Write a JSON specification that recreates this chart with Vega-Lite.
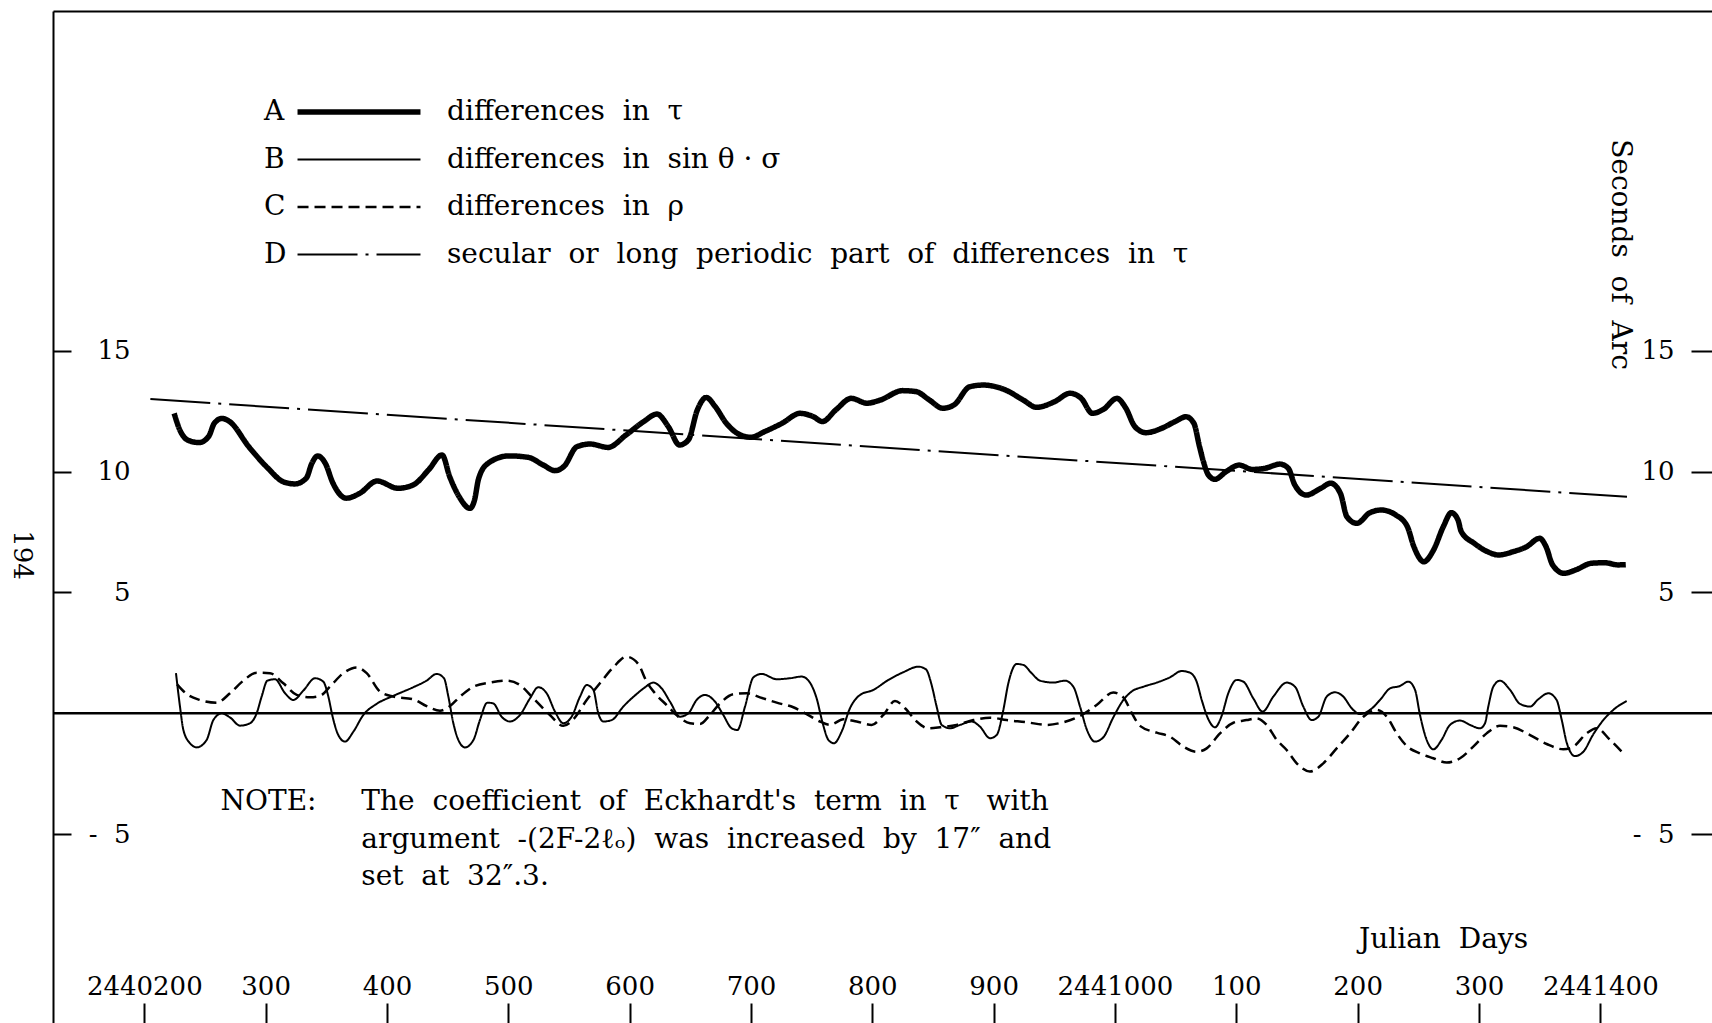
{
"$schema": "https://vega.github.io/schema/vega-lite/v6.json",
"width": 1659, "height": 1012,
"autosize": {"type": "none"},
"padding": {"left": 53, "top": 11, "right": 0, "bottom": 0},
"background": "white",
"config": {
 "view": {"stroke": null},
 "font": "DejaVu Serif",
 "axis": {"grid": false, "labelFont": "DejaVu Serif", "labelFontSize": 26, "labelColor": "black", "titleFont": "DejaVu Serif", "titleFontSize": 28, "titleFontWeight": "normal", "titleColor": "black", "tickColor": "black", "domainColor": "black", "labelOverlap": false, "labelFlush": false},
 "legend": {"labelFont": "DejaVu Serif", "labelFontSize": 28, "labelColor": "black", "labelLimit": 0}
},
"data": {"values": [
{"series":"A","jd":2440224.6,"value":12.41},{"series":"A","jd":2440229.3,"value":11.72},{"series":"A","jd":2440235.6,"value":11.31},{"series":"A","jd":2440245.1,"value":11.2},{"series":"A","jd":2440253,"value":11.45},{"series":"A","jd":2440257.7,"value":12.0},{"series":"A","jd":2440264,"value":12.2},{"series":"A","jd":2440270.3,"value":12.07},{"series":"A","jd":2440286.1,"value":11.03},{"series":"A","jd":2440301.9,"value":10.14},{"series":"A","jd":2440314.5,"value":9.58},{"series":"A","jd":2440324,"value":9.49},{"series":"A","jd":2440333.4,"value":9.72},{"series":"A","jd":2440338.1,"value":10.34},{"series":"A","jd":2440342.8,"value":10.65},{"series":"A","jd":2440349.2,"value":10.34},{"series":"A","jd":2440355.5,"value":9.52},{"series":"A","jd":2440366.5,"value":8.9},{"series":"A","jd":2440377.5,"value":9.1},{"series":"A","jd":2440391.8,"value":9.61},{"series":"A","jd":2440409.1,"value":9.31},{"series":"A","jd":2440421.7,"value":9.45},{"series":"A","jd":2440434.3,"value":10.07},{"series":"A","jd":2440445.4,"value":10.69},{"series":"A","jd":2440451.7,"value":9.79},{"series":"A","jd":2440459.5,"value":8.96},{"series":"A","jd":2440468.4,"value":8.48},{"series":"A","jd":2440472.2,"value":8.83},{"series":"A","jd":2440475.5,"value":9.7},{"series":"A","jd":2440483.2,"value":10.34},{"series":"A","jd":2440500.6,"value":10.65},{"series":"A","jd":2440516.3,"value":10.59},{"series":"A","jd":2440528.9,"value":10.27},{"series":"A","jd":2440538.4,"value":10.04},{"series":"A","jd":2440546,"value":10.22},{"series":"A","jd":2440556.5,"value":11.03},{"series":"A","jd":2440567.5,"value":11.14},{"series":"A","jd":2440582.2,"value":11.0},{"series":"A","jd":2440596.9,"value":11.51},{"series":"A","jd":2440611.6,"value":12.07},{"series":"A","jd":2440622.6,"value":12.38},{"series":"A","jd":2440631.9,"value":11.86},{"series":"A","jd":2440641.1,"value":11.1},{"series":"A","jd":2440648.4,"value":11.31},{"series":"A","jd":2440655.8,"value":12.55},{"series":"A","jd":2440663.1,"value":13.07},{"series":"A","jd":2440670.5,"value":12.69},{"series":"A","jd":2440679.7,"value":12.0},{"series":"A","jd":2440688.9,"value":11.58},{"series":"A","jd":2440700,"value":11.42},{"series":"A","jd":2440711,"value":11.65},{"series":"A","jd":2440725.7,"value":12.0},{"series":"A","jd":2440740.4,"value":12.41},{"series":"A","jd":2440751.5,"value":12.27},{"series":"A","jd":2440758.8,"value":12.07},{"series":"A","jd":2440769.9,"value":12.55},{"series":"A","jd":2440782.7,"value":13.03},{"series":"A","jd":2440795.6,"value":12.83},{"series":"A","jd":2440806.6,"value":12.96},{"series":"A","jd":2440825,"value":13.35},{"series":"A","jd":2440836,"value":13.31},{"series":"A","jd":2440847.1,"value":12.96},{"series":"A","jd":2440858.1,"value":12.62},{"series":"A","jd":2440867.4,"value":12.76},{"series":"A","jd":2440880.2,"value":13.51},{"series":"A","jd":2440891.3,"value":13.58},{"series":"A","jd":2440909.6,"value":13.38},{"series":"A","jd":2440924.4,"value":12.96},{"series":"A","jd":2440935.4,"value":12.66},{"series":"A","jd":2440950.1,"value":12.89},{"series":"A","jd":2440963,"value":13.24},{"series":"A","jd":2440972.2,"value":13.03},{"series":"A","jd":2440981.4,"value":12.41},{"series":"A","jd":2440990.6,"value":12.58},{"series":"A","jd":2441001.6,"value":13.03},{"series":"A","jd":2441009,"value":12.62},{"series":"A","jd":2441016.4,"value":11.86},{"series":"A","jd":2441025.6,"value":11.61},{"series":"A","jd":2441038.4,"value":11.79},{"series":"A","jd":2441049.5,"value":12.07},{"series":"A","jd":2441058.6,"value":12.27},{"series":"A","jd":2441065,"value":12.0},{"series":"A","jd":2441069.7,"value":11.03},{"series":"A","jd":2441073,"value":10.4},{"series":"A","jd":2441077,"value":9.86},{"series":"A","jd":2441082.4,"value":9.68},{"series":"A","jd":2441091.6,"value":10.0},{"series":"A","jd":2441102.4,"value":10.27},{"series":"A","jd":2441113.1,"value":10.09},{"series":"A","jd":2441123.9,"value":10.14},{"series":"A","jd":2441136,"value":10.31},{"series":"A","jd":2441142.8,"value":10.14},{"series":"A","jd":2441148.2,"value":9.45},{"series":"A","jd":2441157.6,"value":9.03},{"series":"A","jd":2441169.7,"value":9.31},{"series":"A","jd":2441177.8,"value":9.52},{"series":"A","jd":2441185.8,"value":9.1},{"series":"A","jd":2441191.2,"value":8.13},{"series":"A","jd":2441199.3,"value":7.86},{"series":"A","jd":2441210.1,"value":8.3},{"series":"A","jd":2441219.5,"value":8.41},{"series":"A","jd":2441231.6,"value":8.2},{"series":"A","jd":2441241,"value":7.72},{"series":"A","jd":2441246.4,"value":6.89},{"series":"A","jd":2441254.5,"value":6.27},{"series":"A","jd":2441262.6,"value":6.76},{"series":"A","jd":2441270.6,"value":7.72},{"series":"A","jd":2441277.3,"value":8.3},{"series":"A","jd":2441282.7,"value":8.0},{"series":"A","jd":2441285.4,"value":7.52},{"series":"A","jd":2441296.2,"value":7.03},{"series":"A","jd":2441306.9,"value":6.69},{"series":"A","jd":2441316.3,"value":6.55},{"series":"A","jd":2441328.4,"value":6.69},{"series":"A","jd":2441339.2,"value":6.89},{"series":"A","jd":2441350,"value":7.24},{"series":"A","jd":2441355.3,"value":6.89},{"series":"A","jd":2441360.7,"value":6.14},{"series":"A","jd":2441370.1,"value":5.79},{"series":"A","jd":2441379.6,"value":5.93},{"series":"A","jd":2441393,"value":6.21},{"series":"A","jd":2441403.8,"value":6.23},{"series":"A","jd":2441414.5,"value":6.14},{"series":"A","jd":2441421,"value":6.15},
{"series":"B","jd":2440226.1,"value":1.66},{"series":"B","jd":2440229.4,"value":0.28},{"series":"B","jd":2440232.2,"value":-0.69},{"series":"B","jd":2440237.7,"value":-1.24},{"series":"B","jd":2440243.2,"value":-1.41},{"series":"B","jd":2440251.4,"value":-1.1},{"series":"B","jd":2440256.9,"value":-0.28},{"series":"B","jd":2440263.8,"value":0},{"series":"B","jd":2440270.6,"value":-0.17},{"series":"B","jd":2440278.9,"value":-0.51},{"series":"B","jd":2440287.1,"value":-0.41},{"series":"B","jd":2440292.6,"value":0},{"series":"B","jd":2440296.7,"value":0.69},{"series":"B","jd":2440301.4,"value":1.35},{"series":"B","jd":2440307.7,"value":1.41},{"series":"B","jd":2440316,"value":0.83},{"series":"B","jd":2440322.8,"value":0.55},{"series":"B","jd":2440331.1,"value":0.94},{"series":"B","jd":2440340.7,"value":1.45},{"series":"B","jd":2440347.5,"value":1.31},{"series":"B","jd":2440351.7,"value":0.69},{"series":"B","jd":2440355.2,"value":-0.14},{"series":"B","jd":2440359.9,"value":-0.9},{"series":"B","jd":2440365.4,"value":-1.17},{"series":"B","jd":2440372.3,"value":-0.76},{"series":"B","jd":2440380.5,"value":-0.07},{"series":"B","jd":2440391.5,"value":0.39},{"series":"B","jd":2440405.2,"value":0.72},{"series":"B","jd":2440421.7,"value":1.08},{"series":"B","jd":2440432.7,"value":1.35},{"series":"B","jd":2440440.9,"value":1.63},{"series":"B","jd":2440447,"value":1.45},{"series":"B","jd":2440450.6,"value":0.69},{"series":"B","jd":2440454.7,"value":-0.41},{"series":"B","jd":2440458.8,"value":-1.1},{"series":"B","jd":2440464.3,"value":-1.41},{"series":"B","jd":2440471.3,"value":-1.1},{"series":"B","jd":2440476.6,"value":-0.28},{"series":"B","jd":2440482.7,"value":0.44},{"series":"B","jd":2440487.6,"value":0.41},{"series":"B","jd":2440494.5,"value":-0.14},{"series":"B","jd":2440501.4,"value":-0.34},{"series":"B","jd":2440509.6,"value":-0.07},{"series":"B","jd":2440517.9,"value":0.62},{"series":"B","jd":2440524.7,"value":1.08},{"series":"B","jd":2440531.6,"value":0.83},{"series":"B","jd":2440538.5,"value":0.07},{"series":"B","jd":2440545.3,"value":-0.41},{"series":"B","jd":2440552.2,"value":-0.14},{"series":"B","jd":2440559.1,"value":0.69},{"series":"B","jd":2440564.6,"value":1.17},{"series":"B","jd":2440570.1,"value":0.97},{"series":"B","jd":2440574.2,"value":0},{"series":"B","jd":2440578.3,"value":-0.34},{"series":"B","jd":2440585.2,"value":-0.28},{"series":"B","jd":2440594.8,"value":0.28},{"series":"B","jd":2440605.8,"value":0.8},{"series":"B","jd":2440612,"value":1.05},{"series":"B","jd":2440619.5,"value":1.27},{"series":"B","jd":2440626.4,"value":1.03},{"series":"B","jd":2440633.3,"value":0.48},{"series":"B","jd":2440641.5,"value":-0.14},{"series":"B","jd":2440648.4,"value":0},{"series":"B","jd":2440655.2,"value":0.55},{"series":"B","jd":2440662.1,"value":0.76},{"series":"B","jd":2440670.4,"value":0.48},{"series":"B","jd":2440677.2,"value":-0.07},{"series":"B","jd":2440684.1,"value":-0.62},{"series":"B","jd":2440688.8,"value":-0.69},{"series":"B","jd":2440695.1,"value":0.28},{"series":"B","jd":2440702,"value":1.49},{"series":"B","jd":2440708.8,"value":1.63},{"series":"B","jd":2440721.2,"value":1.41},{"series":"B","jd":2440732.2,"value":1.45},{"series":"B","jd":2440741.8,"value":1.52},{"series":"B","jd":2440748.6,"value":1.27},{"series":"B","jd":2440754.1,"value":0.62},{"series":"B","jd":2440759.1,"value":-0.41},{"series":"B","jd":2440763.8,"value":-1.1},{"series":"B","jd":2440768.4,"value":-1.24},{"series":"B","jd":2440774.7,"value":-0.76},{"series":"B","jd":2440781.6,"value":0.21},{"series":"B","jd":2440789.9,"value":0.76},{"series":"B","jd":2440800.9,"value":0.97},{"series":"B","jd":2440813.2,"value":1.38},{"series":"B","jd":2440825.6,"value":1.7},{"series":"B","jd":2440837.9,"value":1.93},{"series":"B","jd":2440844.2,"value":1.82},{"series":"B","jd":2440848.9,"value":1.17},{"series":"B","jd":2440853,"value":0.28},{"series":"B","jd":2440857.2,"value":-0.48},{"series":"B","jd":2440864,"value":-0.62},{"series":"B","jd":2440872.3,"value":-0.48},{"series":"B","jd":2440881.9,"value":-0.34},{"series":"B","jd":2440888.7,"value":-0.55},{"series":"B","jd":2440897,"value":-1.03},{"series":"B","jd":2440902.5,"value":-0.9},{"series":"B","jd":2440908,"value":0.14},{"series":"B","jd":2440912.1,"value":1.24},{"series":"B","jd":2440919,"value":2.04},{"series":"B","jd":2440924.5,"value":2.0},{"series":"B","jd":2440931.3,"value":1.66},{"series":"B","jd":2440938.2,"value":1.35},{"series":"B","jd":2440949.2,"value":1.27},{"series":"B","jd":2440958.8,"value":1.35},{"series":"B","jd":2440965.7,"value":1.1},{"series":"B","jd":2440971.2,"value":0.28},{"series":"B","jd":2440976.7,"value":-0.66},{"series":"B","jd":2440983.5,"value":-1.17},{"series":"B","jd":2440990.4,"value":-0.99},{"series":"B","jd":2440998.6,"value":-0.17},{"series":"B","jd":2441006.9,"value":0.55},{"series":"B","jd":2441013.7,"value":0.9},{"series":"B","jd":2441023.4,"value":1.1},{"series":"B","jd":2441034.4,"value":1.27},{"series":"B","jd":2441045.4,"value":1.49},{"series":"B","jd":2441055,"value":1.75},{"series":"B","jd":2441061.8,"value":1.68},{"series":"B","jd":2441067.3,"value":1.31},{"series":"B","jd":2441071.5,"value":0.55},{"series":"B","jd":2441077,"value":-0.25},{"series":"B","jd":2441082.4,"value":-0.58},{"series":"B","jd":2441087.9,"value":-0.11},{"series":"B","jd":2441093.4,"value":0.83},{"series":"B","jd":2441100.3,"value":1.38},{"series":"B","jd":2441105.8,"value":1.31},{"series":"B","jd":2441114,"value":0.62},{"series":"B","jd":2441121.7,"value":0.07},{"series":"B","jd":2441130.5,"value":0.69},{"series":"B","jd":2441141.5,"value":1.27},{"series":"B","jd":2441148.4,"value":1.1},{"series":"B","jd":2441155.2,"value":0.28},{"series":"B","jd":2441162.1,"value":-0.28},{"series":"B","jd":2441167.6,"value":-0.14},{"series":"B","jd":2441174.5,"value":0.69},{"series":"B","jd":2441181.3,"value":0.87},{"series":"B","jd":2441188.2,"value":0.69},{"series":"B","jd":2441195.1,"value":0.21},{"series":"B","jd":2441201.9,"value":-0.03},{"series":"B","jd":2441210.2,"value":0.14},{"series":"B","jd":2441218.4,"value":0.55},{"series":"B","jd":2441226.7,"value":1.03},{"series":"B","jd":2441234.9,"value":1.13},{"series":"B","jd":2441241.8,"value":1.31},{"series":"B","jd":2441247.3,"value":0.97},{"series":"B","jd":2441251.4,"value":-0.07},{"series":"B","jd":2441256.9,"value":-1.1},{"series":"B","jd":2441262.4,"value":-1.49},{"series":"B","jd":2441269.2,"value":-1.1},{"series":"B","jd":2441276.1,"value":-0.48},{"series":"B","jd":2441284.4,"value":-0.3},{"series":"B","jd":2441292.6,"value":-0.48},{"series":"B","jd":2441300.8,"value":-0.62},{"series":"B","jd":2441305,"value":-0.41},{"series":"B","jd":2441307.7,"value":0.28},{"series":"B","jd":2441311.8,"value":1.1},{"series":"B","jd":2441317.3,"value":1.35},{"series":"B","jd":2441325.6,"value":0.97},{"series":"B","jd":2441333.8,"value":0.39},{"series":"B","jd":2441342.1,"value":0.28},{"series":"B","jd":2441348.9,"value":0.58},{"series":"B","jd":2441357.2,"value":0.83},{"series":"B","jd":2441364,"value":0.55},{"series":"B","jd":2441368.1,"value":-0.25},{"series":"B","jd":2441372.3,"value":-1.21},{"series":"B","jd":2441379.1,"value":-1.77},{"series":"B","jd":2441386,"value":-1.59},{"series":"B","jd":2441394.2,"value":-0.87},{"series":"B","jd":2441402.5,"value":-0.28},{"series":"B","jd":2441410.7,"value":0.14},{"series":"B","jd":2441421.7,"value":0.51},
{"series":"C","jd":2440227,"value":1.2},{"series":"C","jd":2440234.9,"value":0.8},{"series":"C","jd":2440245.9,"value":0.55},{"series":"C","jd":2440259.6,"value":0.44},{"series":"C","jd":2440270.6,"value":0.83},{"series":"C","jd":2440281.6,"value":1.35},{"series":"C","jd":2440292.6,"value":1.68},{"series":"C","jd":2440303.6,"value":1.66},{"series":"C","jd":2440314.6,"value":1.24},{"series":"C","jd":2440325.6,"value":0.76},{"series":"C","jd":2440336.6,"value":0.66},{"series":"C","jd":2440344.8,"value":0.72},{"series":"C","jd":2440353,"value":1.1},{"series":"C","jd":2440364,"value":1.66},{"series":"C","jd":2440375,"value":1.9},{"series":"C","jd":2440383.3,"value":1.66},{"series":"C","jd":2440394.2,"value":0.9},{"series":"C","jd":2440405.2,"value":0.69},{"series":"C","jd":2440421.7,"value":0.58},{"series":"C","jd":2440432.7,"value":0.3},{"series":"C","jd":2440443.7,"value":0.11},{"series":"C","jd":2440452,"value":0.3},{"series":"C","jd":2440460.2,"value":0.69},{"series":"C","jd":2440471.2,"value":1.1},{"series":"C","jd":2440484.9,"value":1.27},{"series":"C","jd":2440498.6,"value":1.35},{"series":"C","jd":2440509.6,"value":1.17},{"series":"C","jd":2440520.6,"value":0.62},{"series":"C","jd":2440534.3,"value":-0.07},{"series":"C","jd":2440545.3,"value":-0.52},{"series":"C","jd":2440553.6,"value":-0.25},{"series":"C","jd":2440564.6,"value":0.55},{"series":"C","jd":2440575.5,"value":1.24},{"series":"C","jd":2440586.5,"value":1.9},{"series":"C","jd":2440597.5,"value":2.34},{"series":"C","jd":2440607.1,"value":2.04},{"series":"C","jd":2440614,"value":1.31},{"series":"C","jd":2440620.9,"value":0.83},{"series":"C","jd":2440630.5,"value":0.34},{"series":"C","jd":2440640.1,"value":-0.14},{"series":"C","jd":2440649.8,"value":-0.41},{"series":"C","jd":2440658,"value":-0.44},{"series":"C","jd":2440666.2,"value":-0.07},{"series":"C","jd":2440674.5,"value":0.41},{"series":"C","jd":2440685.5,"value":0.79},{"series":"C","jd":2440696.5,"value":0.83},{"series":"C","jd":2440707.4,"value":0.66},{"series":"C","jd":2440721.2,"value":0.44},{"series":"C","jd":2440734.9,"value":0.25},{"series":"C","jd":2440745.9,"value":-0.03},{"series":"C","jd":2440756.9,"value":-0.34},{"series":"C","jd":2440765.1,"value":-0.48},{"series":"C","jd":2440776.1,"value":-0.25},{"series":"C","jd":2440787.1,"value":-0.34},{"series":"C","jd":2440799.5,"value":-0.48},{"series":"C","jd":2440809.1,"value":-0.07},{"series":"C","jd":2440818.7,"value":0.51},{"series":"C","jd":2440827,"value":0.21},{"series":"C","jd":2440836.6,"value":-0.34},{"series":"C","jd":2440846.2,"value":-0.62},{"series":"C","jd":2440855.8,"value":-0.58},{"series":"C","jd":2440869.5,"value":-0.48},{"series":"C","jd":2440883.3,"value":-0.28},{"series":"C","jd":2440897,"value":-0.18},{"series":"C","jd":2440910.7,"value":-0.28},{"series":"C","jd":2440927.2,"value":-0.37},{"series":"C","jd":2440943.7,"value":-0.48},{"series":"C","jd":2440957.4,"value":-0.37},{"series":"C","jd":2440971.2,"value":-0.11},{"series":"C","jd":2440984.9,"value":0.34},{"series":"C","jd":2440998.6,"value":0.86},{"series":"C","jd":2441006.9,"value":0.66},{"series":"C","jd":2441014,"value":0.0},{"series":"C","jd":2441020.6,"value":-0.52},{"series":"C","jd":2441034.4,"value":-0.8},{"series":"C","jd":2441045.4,"value":-0.97},{"series":"C","jd":2441056.4,"value":-1.38},{"series":"C","jd":2441067.3,"value":-1.59},{"series":"C","jd":2441075.6,"value":-1.45},{"series":"C","jd":2441086.6,"value":-0.83},{"series":"C","jd":2441097.6,"value":-0.39},{"series":"C","jd":2441108.5,"value":-0.28},{"series":"C","jd":2441116.8,"value":-0.21},{"series":"C","jd":2441125,"value":-0.48},{"series":"C","jd":2441133.3,"value":-1.1},{"series":"C","jd":2441141.5,"value":-1.52},{"series":"C","jd":2441149.8,"value":-2.07},{"series":"C","jd":2441160.7,"value":-2.41},{"series":"C","jd":2441171.7,"value":-2.07},{"series":"C","jd":2441182.7,"value":-1.45},{"series":"C","jd":2441193.7,"value":-0.83},{"series":"C","jd":2441204.7,"value":-0.14},{"series":"C","jd":2441215.7,"value":0.14},{"series":"C","jd":2441224,"value":-0.14},{"series":"C","jd":2441232.2,"value":-0.83},{"series":"C","jd":2441240.4,"value":-1.35},{"series":"C","jd":2441251.4,"value":-1.66},{"series":"C","jd":2441262.4,"value":-1.86},{"series":"C","jd":2441273.4,"value":-2.04},{"series":"C","jd":2441284.4,"value":-1.86},{"series":"C","jd":2441295.3,"value":-1.38},{"series":"C","jd":2441306.3,"value":-0.83},{"series":"C","jd":2441317.3,"value":-0.52},{"series":"C","jd":2441328.3,"value":-0.58},{"series":"C","jd":2441342.1,"value":-0.9},{"series":"C","jd":2441355.8,"value":-1.27},{"series":"C","jd":2441369.5,"value":-1.49},{"series":"C","jd":2441377.8,"value":-1.38},{"series":"C","jd":2441388.7,"value":-0.83},{"series":"C","jd":2441397,"value":-0.62},{"series":"C","jd":2441408,"value":-1.1},{"series":"C","jd":2441419,"value":-1.66},
{"series":"D","jd":2440205,"value":13.0},{"series":"D","jd":2441422,"value":8.96}
]},
"layer": [
 {
  "mark": {"type": "line", "interpolate": "monotone"},
  "encoding": {
   "x": {"field": "jd", "type": "quantitative",
    "scale": {"domain": [2440124.75, 2441492.06], "nice": false, "zero": false},
    "axis": {"orient": "bottom", "values": [2440200,2440300,2440400,2440500,2440600,2440700,2440800,2440900,2441000,2441100,2441200,2441300,2441400],
     "domain": false, "tickSize": -20, "tickWidth": 2, "labelBaseline": "middle", "labelPadding": -17,
     "labelExpr": "(datum.value % 1000 == 0 || datum.value == 2440200 || datum.value == 2441400) ? format(datum.value, 'd') : format(datum.value % 1000, 'd')",
     "title": "Julian\u00a0 Days", "titleX": 1390, "titleY": -84, "titleAlign": "center", "titleBaseline": "middle", "titleAnchor": null}},
   "y": {"field": "value", "type": "quantitative",
    "scale": {"domain": [-12.813, 29.056], "nice": false, "zero": false},
    "axis": {"orient": "left", "values": [-5, 5, 10, 15], "domain": true, "domainWidth": 2, "tickSize": -18, "tickWidth": 2,
     "labelAlign": "right", "labelBaseline": "middle", "labelPadding": -59,
     "labelExpr": "datum.value < 0 ? '-\u00a0 ' + abs(datum.value) : datum.label", "title": null}},
   "color": {"field": "series", "type": "nominal", "scale": {"range": ["#000000", "#000000", "#000000", "#000000"]},
    "legend": {"title": null, "orient": "none", "legendX": 183, "legendY": 87, "direction": "vertical", "padding": 0,
     "symbolType": "M-6,0H6", "symbolSize": 420, "symbolOpacity": 0, "labelOffset": 0, "rowPadding": 19.5}},
   "strokeDash": {"field": "series", "type": "nominal",
    "scale": {"domain": ["A", "B", "C", "D"], "range": [[1, 0], [1, 0], [11, 6], [60, 8, 3, 8]]},
    "legend": {"title": null, "orient": "none", "legendX": 292, "legendY": 87, "direction": "vertical", "padding": 0,
     "symbolType": "M-6,0H6", "symbolSize": 420, "symbolStrokeColor": "black", "labelOffset": 74, "rowPadding": 19.5,
     "labelExpr": "datum.label === 'A' ? 'differences\u00a0 in\u00a0 τ' : datum.label === 'B' ? 'differences\u00a0 in\u00a0 sin θ · σ' : datum.label === 'C' ? 'differences\u00a0 in\u00a0 ρ' : 'secular\u00a0 or\u00a0 long\u00a0 periodic\u00a0 part\u00a0 of\u00a0 differences\u00a0 in\u00a0 τ'"}},
   "strokeWidth": {"field": "series", "type": "nominal",
    "scale": {"type": "ordinal", "domain": ["A", "B", "C", "D"], "range": [5.5, 2, 2.5, 2]},
    "legend": {"title": null, "orient": "none", "legendX": 292, "legendY": 87, "direction": "vertical", "padding": 0,
     "symbolType": "M-6,0H6", "symbolSize": 420, "symbolStrokeColor": "black", "labelOffset": 74, "rowPadding": 19.5,
     "labelExpr": "datum.label === 'A' ? 'differences\u00a0 in\u00a0 τ' : datum.label === 'B' ? 'differences\u00a0 in\u00a0 sin θ · σ' : datum.label === 'C' ? 'differences\u00a0 in\u00a0 ρ' : 'secular\u00a0 or\u00a0 long\u00a0 periodic\u00a0 part\u00a0 of\u00a0 differences\u00a0 in\u00a0 τ'"}}
  }
 },
 {
  "data": {"values": [{}]},
  "mark": {"type": "rule", "color": "black", "strokeWidth": 2.5},
  "encoding": {
   "y": {"datum": 0, "type": "quantitative",
    "scale": {"domain": [-12.813, 29.056], "nice": false, "zero": false},
    "axis": {"orient": "right", "values": [-5, 5, 10, 15], "domain": false, "tickSize": -21, "tickWidth": 2,
     "labelAlign": "right", "labelBaseline": "middle", "labelPadding": -17,
     "labelExpr": "datum.value < 0 ? '-\u00a0 ' + abs(datum.value) : datum.label",
     "title": "Seconds\u00a0 of\u00a0 Arc", "titleAngle": 90, "titleX": -93, "titleY": 243, "titleAlign": "center", "titleBaseline": "middle", "titleAnchor": null}}
  }
 },
 {
  "data": {"values": [{}]},
  "mark": {"type": "text", "text": "NOTE:", "align": "left", "baseline": "alphabetic", "fontSize": 28, "fill": "black"},
  "encoding": {
   "x": {"datum": 2440262.8, "type": "quantitative",
    "scale": {"domain": [2440124.75, 2441492.06], "nice": false, "zero": false},
    "axis": {"orient": "top", "domain": true, "domainWidth": 2, "ticks": false, "labels": false, "title": null}},
   "y": {"datum": -4.0, "type": "quantitative", "scale": {"domain": [-12.813, 29.056], "nice": false, "zero": false}, "axis": null}
  }
 },
 {
  "data": {"values": [{}]},
  "mark": {"type": "text", "text": ["The\u00a0 coefficient\u00a0 of\u00a0 Eckhardt's\u00a0 term\u00a0 in\u00a0 τ\u00a0\u00a0 with", "argument\u00a0 -(2F-2ℓₒ)\u00a0 was\u00a0 increased\u00a0 by\u00a0 17″\u00a0 and", "set\u00a0 at\u00a0 32″.3."], "align": "left", "baseline": "alphabetic", "fontSize": 28, "lineHeight": 37.7, "fill": "black"},
  "encoding": {
   "x": {"datum": 2440378.9, "type": "quantitative", "scale": {"domain": [2440124.75, 2441492.06], "nice": false, "zero": false}, "axis": null},
   "y": {"datum": -4.0, "type": "quantitative", "scale": {"domain": [-12.813, 29.056], "nice": false, "zero": false}, "axis": null}
  }
 },
 {
  "data": {"values": [{}]},
  "mark": {"type": "text", "text": "194", "align": "center", "baseline": "middle", "angle": 90, "fontSize": 26, "fill": "black"},
  "encoding": {
   "x": {"datum": 2440099.2, "type": "quantitative", "scale": {"domain": [2440124.75, 2441492.06], "nice": false, "zero": false}, "axis": null},
   "y": {"datum": 6.55, "type": "quantitative", "scale": {"domain": [-12.813, 29.056], "nice": false, "zero": false}, "axis": null}
  }
 }
],
"resolve": {"axis": {"x": "independent", "y": "independent"}}
}
